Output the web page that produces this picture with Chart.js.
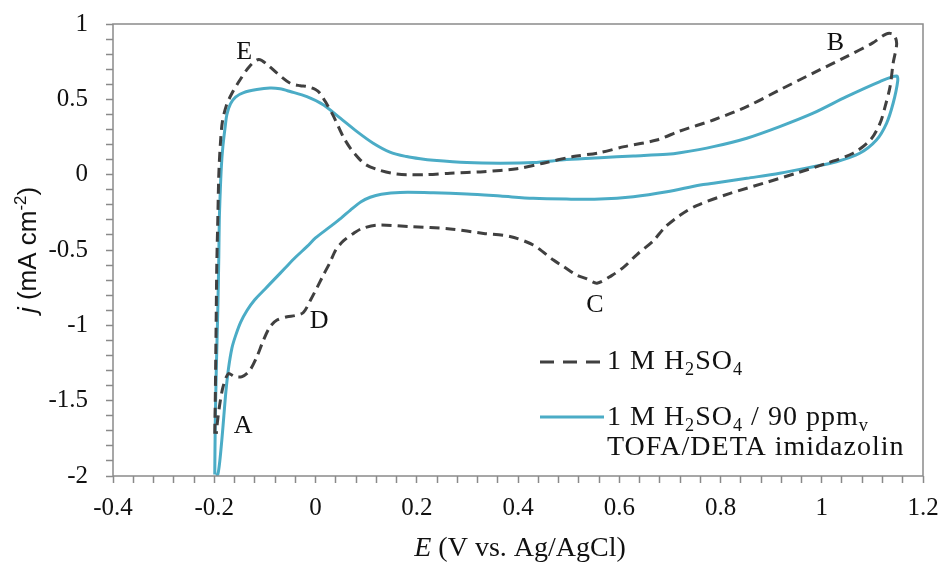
<!DOCTYPE html>
<html>
<head>
<meta charset="utf-8">
<script src="https://cdn.jsdelivr.net/npm/chart.js@4.4.1/dist/chart.umd.min.js"></script>
<style>
  body { margin: 0; background: #fff; }
</style>
</head>
<body>
<canvas id="cv" width="940" height="563"></canvas>
<script>
// 1 M H2SO4 (dashed), forward sweep from the bottom then back
const acidE = [-0.199, -0.198, -0.197, -0.196, -0.195, -0.193, -0.191, -0.188, -0.184, -0.176, -0.165, -0.149, -0.13, -0.112, -0.095, -0.076, -0.05, -0.03, -0.017, 0.0, 0.009, 0.022, 0.036, 0.055, 0.07, 0.085, 0.1, 0.121, 0.15, 0.18, 0.22, 0.266, 0.332, 0.398, 0.45, 0.509, 0.56, 0.61, 0.674, 0.72, 0.786, 0.852, 0.917, 0.983, 1.049, 1.1, 1.128, 1.142, 1.148,
  1.141, 1.135, 1.125, 1.115, 1.096, 1.062, 1.01, 0.95, 0.885, 0.819, 0.753, 0.72, 0.69, 0.667, 0.635, 0.61, 0.585, 0.556, 0.535, 0.516, 0.49, 0.47, 0.43, 0.384, 0.332, 0.266, 0.187, 0.121, 0.09, 0.075, 0.055, 0.04, 0.029, 0.015, 0.003, -0.01, -0.024, -0.04, -0.056, -0.076, -0.09, -0.103, -0.116, -0.13, -0.145, -0.16, -0.172, -0.182, -0.188, -0.193, -0.196];
const acidJ = [-1.72, -1.5, -1.2, -0.9, -0.6, -0.3, 0.0, 0.2, 0.35, 0.46, 0.54, 0.63, 0.72, 0.765, 0.73, 0.674, 0.607, 0.59, 0.585, 0.565, 0.54, 0.47, 0.385, 0.25, 0.17, 0.11, 0.065, 0.035, 0.01, 0.0, 0.0, 0.01, 0.02, 0.04, 0.076, 0.12, 0.145, 0.186, 0.23, 0.29, 0.363, 0.452, 0.563, 0.674, 0.784, 0.873, 0.935, 0.93, 0.87,
  0.74, 0.585, 0.45, 0.34, 0.23, 0.142, 0.076, 0.01, -0.057, -0.124, -0.205, -0.27, -0.35, -0.44, -0.53, -0.61, -0.67, -0.72, -0.69, -0.667, -0.61, -0.567, -0.467, -0.41, -0.39, -0.36, -0.345, -0.335, -0.36, -0.39, -0.44, -0.5, -0.58, -0.67, -0.75, -0.833, -0.915, -0.935, -0.943, -0.965, -1.01, -1.1, -1.21, -1.3, -1.34, -1.34, -1.32, -1.4, -1.5, -1.62, -1.72];

// 1 M H2SO4 / 90 ppmv TOFA/DETA imidazolin (solid)
const inhE = [-0.199, -0.198, -0.196, -0.193, -0.191, -0.19, -0.188, -0.186, -0.183, -0.178, -0.175, -0.168, -0.158, -0.142, -0.116, -0.09, -0.07, -0.05, -0.017, 0.016, 0.049, 0.082, 0.114, 0.147, 0.18, 0.207, 0.233, 0.299, 0.365, 0.43, 0.496, 0.562, 0.628, 0.694, 0.72, 0.786, 0.852, 0.917, 0.983, 1.049, 1.115, 1.148,
  1.15, 1.141, 1.128, 1.108, 1.075, 1.029, 0.983, 0.917, 0.852, 0.786, 0.76, 0.694, 0.628, 0.562, 0.496, 0.43, 0.365, 0.299, 0.233, 0.167, 0.13, 0.108, 0.09, 0.069, 0.05, 0.029, 0.0, -0.017, -0.04, -0.06, -0.08, -0.1, -0.12, -0.135, -0.148, -0.158, -0.165, -0.172, -0.177, -0.181, -0.185, -0.189, -0.193, -0.197];
const inhJ = [-1.99, -1.65, -1.3, -0.9, -0.545, -0.3, -0.1, 0.05, 0.186, 0.33, 0.4, 0.47, 0.515, 0.545, 0.565, 0.575, 0.57, 0.552, 0.518, 0.463, 0.375, 0.286, 0.209, 0.15, 0.12, 0.105, 0.095, 0.08, 0.076, 0.08, 0.1, 0.113, 0.124, 0.135, 0.145, 0.186, 0.242, 0.319, 0.408, 0.518, 0.618, 0.655,
  0.62, 0.474, 0.341, 0.23, 0.142, 0.086, 0.053, 0.009, -0.024, -0.057, -0.068, -0.113, -0.146, -0.162, -0.162, -0.157, -0.142, -0.128, -0.12, -0.118, -0.13, -0.15, -0.18, -0.235, -0.29, -0.345, -0.42, -0.478, -0.55, -0.62, -0.69, -0.76, -0.83, -0.9, -0.98, -1.07, -1.15, -1.29, -1.44, -1.6, -1.76, -1.9, -1.99, -1.995];

// peak letters
const peakNames = ['A', 'B', 'C', 'D', 'E'];
const peakE = [-0.143, 1.027, 0.552, 0.007, -0.141];
const peakJ = [-1.67, 0.872, -0.866, -0.972, 0.812];

// axes
const xMin = -0.4, xMax = 1.2, xMajor = 0.2, xMinor = 0.04;
const yMin = -2, yMax = 1, yMajor = 0.5, yMinor = 0.1;

const acidColor = '#404040';
const inhColor = '#4bacc6';
const axisColor = '#8a8a8a';

function pts(xs, ys) {
  let out = [];
  for (let i = 0; i < xs.length; i++) out.push({x: xs[i], y: ys[i]});
  return out;
}

function majorLabel(v, step) {
  let r = v / step;
  if (Math.abs(r - Math.round(r)) > 1e-6) return '';
  return String(Math.round(v * 10) / 10);
}

// draws text pieces with italic / sub / sup parts, returns width
function pieces(ctx, parts, x, y, size, family, measureOnly) {
  let w = 0;
  for (const p of parts) {
    let s = p.sub || p.sup ? size * 0.65 : size;
    ctx.font = (p.it ? 'italic ' : '') + s + 'px ' + family;
    let dy = p.sub ? size * 0.22 : (p.sup ? -size * 0.38 : 0);
    if (!measureOnly) ctx.fillText(p.t, x + w, y + dy);
    w += ctx.measureText(p.t).width;
  }
  return w;
}

const extras = {
  id: 'extras',
  afterDraw(chart) {
    const ctx = chart.ctx, a = chart.chartArea;
    const xs = chart.scales.x, ys = chart.scales.y;
    ctx.save();

    // frame
    ctx.strokeStyle = axisColor;
    ctx.lineWidth = 1.5;
    ctx.strokeRect(a.left, a.top, a.right - a.left, a.bottom - a.top);

    // peak letters
    ctx.fillStyle = '#111';
    ctx.font = '26px "Liberation Serif"';
    ctx.textAlign = 'center';
    ctx.textBaseline = 'middle';
    for (let i = 0; i < peakNames.length; i++) {
      ctx.fillText(peakNames[i], xs.getPixelForValue(peakE[i]), ys.getPixelForValue(peakJ[i]));
    }

    // legend
    ctx.textAlign = 'left';
    ctx.textBaseline = 'alphabetic';
    ctx.lineWidth = 3;
    ctx.strokeStyle = acidColor;
    ctx.setLineDash([14, 9]);
    ctx.beginPath(); ctx.moveTo(540, 362); ctx.lineTo(604, 362); ctx.stroke();
    ctx.setLineDash([]);
    ctx.strokeStyle = inhColor;
    ctx.beginPath(); ctx.moveTo(540, 417); ctx.lineTo(604, 417); ctx.stroke();
    const fam = '"Liberation Serif"';
    ctx.fillStyle = '#111';
    ctx.letterSpacing = '1px';
    pieces(ctx, [{t: '1 M H'}, {t: '2', sub: 1}, {t: 'SO'}, {t: '4', sub: 1}], 607, 369, 28, fam);
    pieces(ctx, [{t: '1 M H'}, {t: '2', sub: 1}, {t: 'SO'}, {t: '4', sub: 1}, {t: ' / 90 ppm'}, {t: 'v', sub: 1}], 607, 425, 28, fam);
    pieces(ctx, [{t: 'TOFA/DETA imidazolin'}], 607, 455, 28, fam);
    ctx.letterSpacing = '0px';

    // x title
    let xt = [{t: 'E', it: 1}, {t: ' (V vs. Ag/AgCl)'}];
    let w = pieces(ctx, xt, 0, 0, 28, fam, true);
    pieces(ctx, xt, 520 - w / 2, 556, 28, fam);

    // y title
    let yt = [{t: 'j', it: 1}, {t: ' (mA cm'}, {t: '-2', sup: 1}, {t: ')'}];
    ctx.translate(36, 250);
    ctx.rotate(-Math.PI / 2);
    w = pieces(ctx, yt, 0, 0, 26, '"Liberation Sans"', true);
    pieces(ctx, yt, -w / 2, 0, 26, '"Liberation Sans"');
    ctx.restore();
  }
};

new Chart(document.getElementById('cv'), {
  type: 'scatter',
  data: {
    datasets: [
      {
        label: '1 M H2SO4',
        data: pts(acidE, acidJ),
        showLine: true,
        borderColor: acidColor,
        borderWidth: 3,
        borderDash: [10, 6],
        pointRadius: 0,
        tension: 0.3
      },
      {
        label: '1 M H2SO4 / 90 ppmv TOFA/DETA imidazolin',
        data: pts(inhE, inhJ),
        showLine: true,
        borderColor: inhColor,
        borderWidth: 3,
        pointRadius: 0,
        tension: 0.3
      }
    ]
  },
  options: {
    responsive: false,
    animation: false,
    devicePixelRatio: 1,
    layout: { padding: { left: 0, top: 24, right: 17, bottom: 0 } },
    plugins: { legend: { display: false }, tooltip: { enabled: false } },
    scales: {
      x: {
        type: 'linear',
        min: xMin, max: xMax,
        border: { display: false },
        grid: { drawOnChartArea: false, drawTicks: true, tickLength: 7, tickColor: axisColor, tickWidth: 1.5 },
        ticks: {
          stepSize: xMinor, autoSkip: false, maxRotation: 0, padding: 10,
          color: '#111',
          font: { family: 'Liberation Serif', size: 25 },
          callback: (v) => majorLabel(v, xMajor)
        },
        afterFit: (s) => { s.height = 87; s.paddingLeft = 0; s.paddingRight = 0; }
      },
      y: {
        type: 'linear',
        min: yMin, max: yMax,
        border: { display: false },
        grid: { drawOnChartArea: false, drawTicks: true, tickLength: 7, tickColor: axisColor, tickWidth: 1.5 },
        ticks: {
          stepSize: yMinor, autoSkip: false, padding: 18,
          color: '#111',
          font: { family: 'Liberation Serif', size: 25 },
          callback: (v) => majorLabel(v, yMajor)
        },
        afterFit: (s) => { s.width = 113; s.paddingTop = 0; s.paddingBottom = 0; }
      }
    }
  },
  plugins: [extras]
});
</script>
</body>
</html>
